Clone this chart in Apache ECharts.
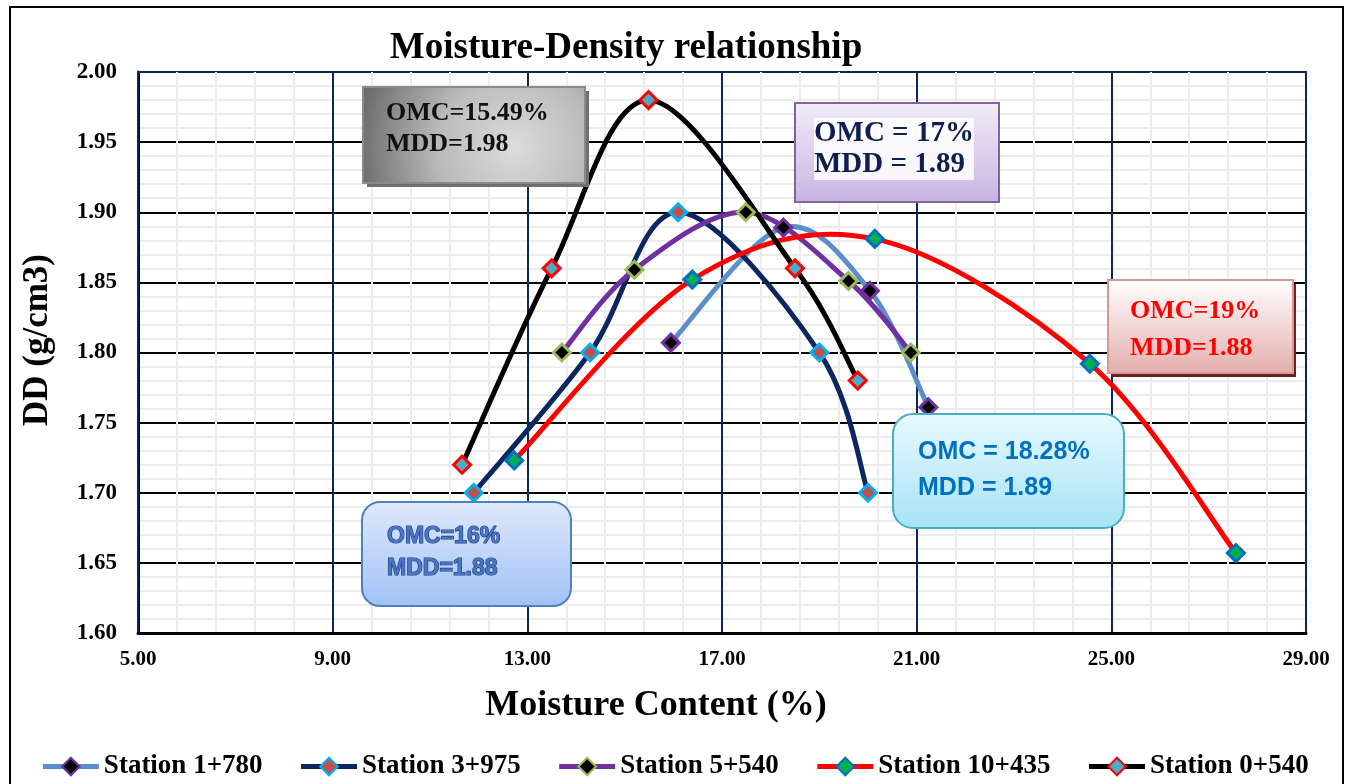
<!DOCTYPE html>
<html>
<head>
<meta charset="utf-8">
<script src="https://cdn.jsdelivr.net/npm/echarts@6/dist/echarts.min.js"></script>
<style>
  html, body { margin: 0; padding: 0; background: #fff; }
  #chart { width: 1349px; height: 784px; }
</style>
</head>
<body>
<div id="chart"></div>
<script>
// ---- data ----
const chartTitle = 'Moisture-Density relationship';
const xTitle = 'Moisture Content (%)';
const yTitle = 'DD (g/cm3)';
const stationNames = ['Station 1+780', 'Station 3+975', 'Station 5+540', 'Station 10+435', 'Station 0+540'];

const moisture1780 = [15.95, 18.26, 20.04, 21.24];
const density1780  = [1.807, 1.889, 1.844, 1.761];

const moisture3975 = [11.90, 14.29, 16.10, 19.00, 20.00];
const density3975  = [1.700, 1.800, 1.900, 1.800, 1.700];

const moisture5540 = [13.71, 15.20, 17.49, 19.60, 20.88];
const density5540  = [1.800, 1.859, 1.900, 1.851, 1.800];

const moisture10435 = [12.73, 16.39, 20.14, 24.56, 27.56];
const density10435  = [1.723, 1.852, 1.881, 1.792, 1.657];

const moisture0540 = [11.66, 13.50, 15.49, 18.50, 19.79];
const density0540  = [1.720, 1.860, 1.980, 1.860, 1.780];

const xMin = 5, xMax = 29, xStep = 4;
const yMin = 1.6, yMax = 2.0, yStep = 0.05;

const noteGray   = ['OMC=15.49%', 'MDD=1.98'];
const notePurple = ['OMC = 17%', 'MDD = 1.89'];
const noteRed    = ['OMC=19%', 'MDD=1.88'];
const noteCyan   = ['OMC = 18.28%', 'MDD = 1.89'];
const noteBlue   = ['OMC=16%', 'MDD=1.88'];

// ---- styles ----
const SERIF = '"Liberation Serif", "Times New Roman", serif';
const SANS = '"Liberation Sans", Arial, sans-serif';
const seriesStyles = [
  { line: '#5b8fc9', fill: '#000000', border: '#7030a0' },
  { line: '#0b2660', fill: '#c0504d', border: '#00b0f0' },
  { line: '#7030a0', fill: '#000000', border: '#9bbb59' },
  { line: '#ff0000', fill: '#00b050', border: '#0070c0' },
  { line: '#000000', fill: '#4bacc6', border: '#ff0000' }
];
const xs = [moisture1780, moisture3975, moisture5540, moisture10435, moisture0540];
const ys = [density1780, density3975, density5540, density10435, density0540];

// Excel-like smoothed curve (Catmull-Rom Bezier through the data points, in pixel space)
function curveRenderer(i) {
  return function (params, api) {
    if (params.dataIndex !== 0) return null;
    const pts = xs[i].map((x, k) => api.coord([x, ys[i][k]]));
    const n = pts.length;
    let d = 'M' + pts[0][0] + ' ' + pts[0][1];
    for (let k = 0; k < n - 1; k++) {
      const p0 = pts[Math.max(k - 1, 0)], p1 = pts[k], p2 = pts[k + 1], p3 = pts[Math.min(k + 2, n - 1)];
      const c1 = [p1[0] + (p2[0] - p0[0]) / 6, p1[1] + (p2[1] - p0[1]) / 6];
      const c2 = [p2[0] - (p3[0] - p1[0]) / 6, p2[1] - (p3[1] - p1[1]) / 6];
      d += ' C' + c1[0] + ' ' + c1[1] + ' ' + c2[0] + ' ' + c2[1] + ' ' + p2[0] + ' ' + p2[1];
    }
    return {
      type: 'path',
      shape: { pathData: d },
      style: { fill: 'none', stroke: seriesStyles[i].line, lineWidth: 5, lineJoin: 'round', lineCap: 'round' },
      silent: true
    };
  };
}

const curveSeries = stationNames.map((name, i) => ({
  name: name + ' (curve)',
  type: 'custom',
  renderItem: curveRenderer(i),
  data: xs[i].map((x, k) => [x, ys[i][k]]),
  encode: { x: 0, y: 1 },
  clip: false,
  silent: true,
  z: 2
}));

const markerSeries = stationNames.map((name, i) => ({
  name: name,
  type: 'line',
  data: xs[i].map((x, k) => [x, ys[i][k]]),
  symbol: 'diamond',
  symbolSize: 17,
  lineStyle: { color: seriesStyles[i].line, width: 5, opacity: 0 },
  itemStyle: { color: seriesStyles[i].fill, borderColor: seriesStyles[i].border, borderWidth: 3 },
  emphasis: { disabled: true },
  z: 5 + i
}));

const ZB = 200;
function box(opts) {
  const children = [];
  if (opts.shadow) {
    children.push({
      type: 'rect', z: ZB,
      shape: { x: opts.x + opts.shadow.dx, y: opts.y + opts.shadow.dy, width: opts.w, height: opts.h, r: opts.r || 0 },
      style: { fill: opts.shadow.color }
    });
  }
  children.push({
    type: 'rect', z: ZB + 1,
    shape: { x: opts.x, y: opts.y, width: opts.w, height: opts.h, r: opts.r || 0 },
    style: { fill: opts.fill, stroke: opts.stroke, lineWidth: opts.lineWidth || 2 }
  });
  children.push({
    type: 'text', z: ZB + 2,
    x: opts.tx, y: opts.ty,
    style: Object.assign({
      text: opts.lines.join('\n'),
      font: opts.font,
      fill: opts.color,
      lineHeight: opts.lineHeight,
      textAlign: 'left',
      textVerticalAlign: 'top'
    }, opts.textExtra || {})
  });
  return children;
}

const grad = (c1, c2) => new echarts.graphic.LinearGradient(0, 0, 0, 1, [
  { offset: 0, color: c1 }, { offset: 1, color: c2 }
]);

const chart = echarts.init(document.getElementById('chart'), null, { renderer: 'canvas' });
chart.setOption({
  animation: false,
  backgroundColor: '#ffffff',
  title: {
    text: chartTitle,
    left: 621, top: 25, textAlign: 'center',
    textStyle: { fontFamily: SERIF, fontWeight: 'bold', fontSize: 37, color: '#000' }
  },
  legend: {
    left: 'center', top: 748,
    itemWidth: 56, itemHeight: 22, itemGap: 36,
    lineStyle: { width: 5, opacity: 1 },
    textStyle: { fontFamily: SERIF, fontWeight: 'bold', fontSize: 27, color: '#000' },
    data: stationNames
  },
  grid: { left: 138, top: 72, right: 43, bottom: 151, containLabel: false },
  xAxis: [{
    type: 'value', min: xMin, max: xMax, interval: xStep, z: 1,
    axisLine: { show: true, onZero: false, lineStyle: { color: '#000', width: 3 } },
    axisTick: { show: false },
    axisLabel: { margin: 16, formatter: v => v.toFixed(2), fontFamily: SERIF, fontWeight: 'bold', fontSize: 21, color: '#000' },
    splitLine: { show: true, lineStyle: { color: '#0b2660', width: 2 } },
    minorTick: { show: false, splitNumber: 5 },
    minorSplitLine: { show: true, lineStyle: { color: '#ececec', width: 2 } }
  }, {
    type: 'value', position: 'top', min: xMin, max: xMax, interval: xStep,
    axisLine: { show: true, onZero: false, lineStyle: { color: '#0b2660', width: 2 } },
    axisTick: { show: false }, axisLabel: { show: false }, splitLine: { show: false }
  }],
  yAxis: [{
    type: 'value', min: yMin, max: yMax, interval: yStep, z: 0,
    axisLine: { show: true, onZero: false, lineStyle: { color: '#000', width: 3 } },
    axisTick: { show: false },
    axisLabel: { margin: 21, formatter: v => v.toFixed(2), fontFamily: SERIF, fontWeight: 'bold', fontSize: 23, color: '#000' },
    splitLine: { show: true, lineStyle: { color: '#000', width: 2 } },
    minorTick: { show: false, splitNumber: 5 },
    minorSplitLine: { show: true, lineStyle: { color: '#ececec', width: 2 } }
  }, {
    type: 'value', position: 'right', min: yMin, max: yMax, interval: yStep,
    axisLine: { show: true, onZero: false, lineStyle: { color: '#0b2660', width: 2 } },
    axisTick: { show: false }, axisLabel: { show: false }, splitLine: { show: false }
  }],
  series: curveSeries.concat(markerSeries),
  graphic: [
    { type: 'rect', z: -10, silent: true, shape: { x: 10, y: 7, width: 1333, height: 820 },
      style: { fill: 'none', stroke: '#000', lineWidth: 2 } },
    { type: 'text', z: 50, x: 656, y: 706, style: { text: xTitle, font: 'bold 36px ' + SERIF, fill: '#000', textAlign: 'center', textVerticalAlign: 'middle' } },
    { type: 'text', z: 50, x: 38, y: 340, rotation: Math.PI / 2, style: { text: yTitle, font: 'bold 35px ' + SERIF, fill: '#000', textAlign: 'center', textVerticalAlign: 'middle' } }
  ].concat(
    box({ x: 363, y: 87, w: 222, h: 96, shadow: { dx: 4, dy: 4, color: '#6f6f6f' },
      fill: new echarts.graphic.RadialGradient(0.68, 0.62, 1.75, [
        { offset: 0, color: '#dcdcdc' }, { offset: 0.45, color: '#bababa' }, { offset: 1, color: '#5e5e5e' }]),
      stroke: '#8a8a8a', lineWidth: 2,
      tx: 386, ty: 98, lines: noteGray, font: 'bold 26px ' + SERIF, color: '#111', lineHeight: 31 }),
    box({ x: 795, y: 103, w: 204, h: 99,
      fill: grad('#f2edf8', '#c7b3e2'), stroke: '#8064a2', lineWidth: 2,
      tx: 814, ty: 118, lines: notePurple, font: 'bold 29px ' + SERIF, color: '#0d1f4f', lineHeight: 31,
      textExtra: { backgroundColor: 'rgba(255,255,255,0.85)' } }),
    box({ x: 1108, y: 280, w: 185, h: 93, shadow: { dx: 3, dy: 4, color: '#6d2222' },
      fill: grad('#ffffff', '#e3aeac'), stroke: '#d99694', lineWidth: 2,
      tx: 1130, ty: 293, lines: noteRed, font: 'bold 26px ' + SERIF, color: '#ff0000', lineHeight: 37 }),
    box({ x: 893, y: 414, w: 231, h: 114, r: 20,
      fill: grad('#e8f9fe', '#a6e3f5'), stroke: '#4bacc6', lineWidth: 2,
      tx: 918, ty: 434, lines: noteCyan, font: 'bold 25px ' + SANS, color: '#0070c0', lineHeight: 36 }),
    box({ x: 362, y: 502, w: 209, h: 104, r: 18,
      fill: grad('#dfe9fb', '#a1c1f7'), stroke: '#4f81bd', lineWidth: 2,
      tx: 387, ty: 521, lines: noteBlue, font: 'bold 23px ' + SANS, color: '#4a74c4', lineHeight: 32,
      textExtra: { stroke: '#1f3d7a', lineWidth: 1.2 } })
  )
});
</script>
</body>
</html>
